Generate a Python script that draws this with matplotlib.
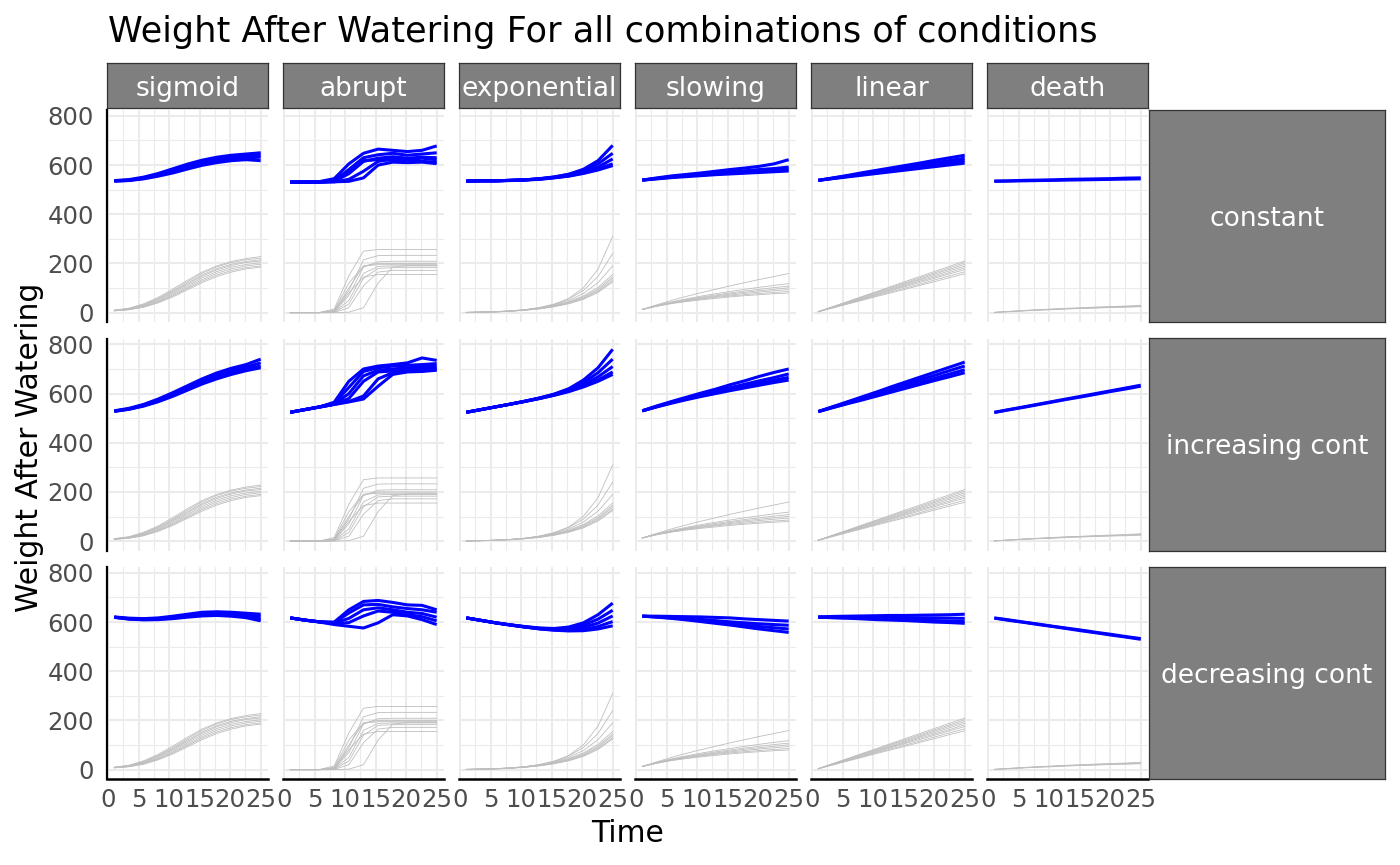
import matplotlib
matplotlib.use("Agg")
import matplotlib.pyplot as plt

# ---------------- data ----------------
days = [1, 3.4, 5.8, 8.2, 10.6, 13, 15.4, 17.8, 20.2, 22.6, 25]
growth_types = ["sigmoid", "abrupt", "exponential", "slowing", "linear", "death"]
conditions = ["constant", "increasing cont", "decreasing cont"]
y_ticks = [0, 200, 400, 600, 800]
x_ticks = [0, 5, 10, 15, 20, 25]

# grey: plant growth curves (same in every condition)
grey_sigmoid = [
    [10, 18, 36, 62, 96, 132, 165, 190, 208, 220, 228],
    [10, 17, 33, 58, 90, 126, 160, 186, 204, 215, 222],
    [9, 16, 31, 55, 86, 120, 153, 179, 197, 208, 215],
    [9, 15, 29, 52, 82, 115, 148, 174, 192, 204, 210],
    [8, 14, 27, 48, 77, 109, 141, 167, 185, 196, 203],
    [8, 13, 25, 45, 72, 103, 134, 160, 178, 190, 197],
    [8, 12, 23, 42, 68, 98, 128, 153, 171, 183, 190],
    [7, 12, 22, 40, 64, 93, 122, 147, 165, 178, 185],
]
grey_abrupt = [
    [0, 0, 1, 15, 150, 250, 257, 257, 257, 257, 257],
    [0, 0, 0, 6, 90, 215, 232, 233, 233, 233, 233],
    [0, 0, 0, 4, 70, 185, 207, 209, 209, 209, 209],
    [0, 0, 0, 10, 120, 190, 195, 195, 195, 195, 195],
    [0, 0, 0, 3, 50, 160, 188, 190, 190, 190, 190],
    [0, 0, 0, 2, 35, 140, 180, 183, 183, 183, 183],
    [0, 0, 0, 1, 20, 110, 165, 172, 172, 172, 172],
    [0, 0, 0, 5, 80, 145, 155, 155, 155, 155, 155],
    [0, 0, 0, 0, 2, 20, 120, 185, 192, 192, 192],
    [0, 0, 0, 8, 100, 190, 200, 200, 200, 200, 200],
]
grey_exponential = [
    [1, 2, 3, 6, 11, 19, 33, 58, 101, 177, 310],
    [1, 2, 4, 7, 12, 21, 35, 56, 90, 147, 240],
    [1, 2, 4, 7, 12, 20, 32, 50, 78, 122, 190],
    [1, 2, 4, 7, 12, 19, 30, 45, 68, 103, 155],
    [1, 2, 4, 7, 11, 18, 28, 42, 64, 96, 145],
    [1, 2, 4, 6, 10, 17, 26, 40, 60, 91, 138],
    [1, 2, 3, 6, 10, 16, 25, 38, 57, 86, 130],
    [1, 2, 3, 6, 10, 15, 24, 36, 54, 82, 125],
]
grey_slowing = [
    [13, 32, 50, 66, 81, 95, 109, 122, 135, 147, 159],
    [13, 30, 44, 56, 67, 77, 86, 95, 103, 111, 118],
    [13, 29, 42, 53, 63, 72, 80, 88, 95, 102, 108],
    [13, 28, 40, 51, 60, 68, 76, 83, 89, 95, 101],
    [13, 27, 39, 49, 57, 65, 72, 78, 84, 89, 94],
    [13, 27, 38, 47, 55, 62, 68, 73, 78, 82, 86],
    [13, 26, 37, 45, 52, 58, 64, 69, 73, 77, 80],
]
grey_linear = [
    [4, 25, 45, 66, 86, 107, 128, 148, 169, 189, 210],
    [4, 24, 44, 64, 84, 104, 123, 143, 163, 183, 203],
    [4, 23, 42, 62, 81, 100, 119, 138, 158, 177, 196],
    [4, 22, 41, 59, 78, 96, 115, 134, 152, 171, 189],
    [4, 22, 40, 57, 75, 93, 111, 129, 146, 164, 182],
    [4, 21, 38, 55, 72, 90, 107, 124, 141, 158, 175],
    [4, 20, 36, 53, 69, 85, 101, 117, 134, 150, 166],
    [4, 19, 35, 50, 66, 81, 96, 112, 127, 143, 158],
]
grey_death = [
    [1, 5, 9, 12, 15, 18, 20, 23, 25, 27, 30],
    [1, 5, 8, 11, 14, 17, 19, 21, 23, 25, 28],
    [1, 4, 8, 11, 13, 16, 18, 20, 22, 24, 26],
    [1, 4, 7, 10, 12, 15, 17, 19, 21, 22, 24],
]

# blue: weight after watering, condition "constant"
blue_constant_sigmoid = [
    [537, 541, 551, 566, 585, 604, 620, 632, 640, 645, 650],
    [536, 539, 548, 561, 578, 596, 612, 624, 632, 637, 640],
    [535, 538, 546, 558, 573, 590, 606, 617, 625, 630, 632],
    [535, 537, 544, 555, 568, 584, 599, 610, 618, 622, 618],
]
blue_constant_abrupt = [
    [531, 531, 533, 545, 605, 648, 665, 660, 655, 660, 678],
    [531, 531, 531, 537, 582, 630, 642, 648, 640, 645, 650],
    [531, 531, 531, 534, 565, 615, 628, 634, 628, 632, 630],
    [531, 531, 531, 535, 575, 618, 622, 620, 622, 615, 612],
    [531, 531, 531, 532, 542, 575, 615, 625, 622, 628, 622],
    [531, 531, 531, 532, 534, 548, 600, 612, 610, 612, 606],
]
blue_constant_exponential = [
    [535, 536, 536, 538, 540, 544, 551, 563, 583, 618, 680],
    [535, 536, 536, 538, 540, 545, 552, 562, 578, 605, 648],
    [535, 536, 536, 538, 540, 544, 550, 558, 572, 592, 625],
    [535, 536, 536, 538, 540, 543, 549, 556, 568, 585, 605],
    [535, 536, 536, 537, 539, 542, 548, 555, 566, 580, 598],
]
blue_constant_slowing = [
    [539, 548, 556, 562, 568, 575, 582, 588, 595, 605, 622],
    [539, 546, 553, 558, 563, 568, 573, 577, 582, 586, 592],
    [539, 545, 551, 556, 560, 564, 568, 571, 575, 579, 583],
    [539, 544, 549, 553, 557, 561, 564, 567, 570, 573, 576],
]
blue_constant_linear = [
    [538, 548, 558, 569, 579, 589, 599, 609, 620, 630, 640],
    [538, 547, 556, 565, 574, 583, 592, 601, 610, 619, 628],
    [538, 546, 554, 562, 570, 578, 586, 594, 602, 610, 618],
    [538, 545, 552, 559, 566, 573, 580, 587, 594, 601, 608],
]
blue_constant_death = [
    [535, 536, 538, 539, 540, 542, 543, 544, 545, 547, 548],
    [534, 535, 536, 537, 538, 539, 540, 541, 542, 543, 544],
]

# condition "increasing cont"
blue_increasing_sigmoid = [
    [530, 540, 556, 578, 604, 632, 660, 684, 703, 718, 740],
    [529, 538, 553, 574, 598, 625, 652, 675, 694, 708, 725],
    [528, 537, 551, 570, 593, 619, 645, 667, 686, 700, 712],
    [528, 536, 549, 567, 589, 614, 639, 660, 678, 693, 705],
]
blue_increasing_abrupt = [
    [524, 535, 546, 565, 650, 700, 712, 718, 725, 745, 735],
    [524, 535, 546, 560, 625, 690, 705, 712, 715, 718, 722],
    [524, 535, 546, 558, 600, 672, 695, 700, 705, 708, 712],
    [524, 535, 546, 557, 580, 650, 688, 692, 698, 700, 705],
    [524, 535, 545, 556, 568, 590, 660, 685, 690, 692, 698],
    [524, 535, 545, 556, 566, 578, 630, 678, 688, 690, 695],
]
blue_increasing_exponential = [
    [524, 535, 546, 557, 569, 582, 598, 620, 655, 705, 780],
    [524, 535, 546, 557, 569, 582, 597, 616, 645, 685, 740],
    [524, 535, 546, 557, 569, 581, 595, 612, 636, 668, 710],
    [524, 535, 546, 557, 568, 580, 594, 610, 630, 655, 688],
    [524, 535, 546, 557, 568, 580, 593, 608, 627, 650, 678],
]
blue_increasing_slowing = [
    [530, 550, 568, 585, 602, 618, 636, 652, 670, 686, 700],
    [530, 548, 565, 581, 596, 610, 624, 638, 652, 665, 680],
    [530, 547, 563, 578, 592, 605, 618, 630, 642, 654, 666],
    [530, 546, 561, 575, 588, 600, 612, 623, 634, 645, 655],
]
blue_increasing_linear = [
    [527, 547, 567, 587, 607, 628, 648, 668, 688, 708, 728],
    [527, 546, 564, 583, 601, 620, 638, 657, 675, 694, 712],
    [527, 544, 561, 578, 595, 612, 629, 646, 663, 680, 697],
    [527, 543, 559, 574, 590, 606, 622, 638, 654, 669, 685],
]
blue_increasing_death = [
    [524, 535, 546, 557, 568, 579, 590, 601, 612, 623, 634],
    [523, 534, 544, 555, 566, 577, 587, 598, 609, 619, 630],
]

# condition "decreasing cont"
blue_decreasing_sigmoid = [
    [621, 616, 614, 617, 624, 632, 640, 642, 640, 636, 632],
    [620, 614, 612, 614, 620, 628, 635, 637, 635, 630, 622],
    [620, 613, 611, 612, 617, 624, 630, 632, 630, 624, 612],
    [619, 612, 609, 610, 614, 620, 625, 627, 624, 618, 605],
]
blue_decreasing_abrupt = [
    [617, 608, 601, 600, 650, 684, 688, 680, 670, 668, 650],
    [617, 608, 601, 598, 637, 670, 672, 662, 655, 650, 640],
    [617, 608, 601, 596, 615, 650, 658, 650, 640, 635, 620],
    [617, 608, 601, 594, 598, 625, 645, 640, 630, 622, 605],
    [617, 608, 600, 590, 583, 576, 597, 630, 625, 610, 590],
]
blue_decreasing_exponential = [
    [617, 607, 597, 589, 582, 576, 574, 580, 597, 630, 677],
    [617, 607, 597, 589, 581, 575, 572, 575, 588, 612, 648],
    [617, 607, 597, 588, 580, 574, 570, 571, 579, 596, 625],
    [617, 607, 597, 588, 580, 573, 568, 567, 570, 582, 602],
    [617, 607, 597, 588, 580, 572, 567, 564, 565, 572, 585],
]
blue_decreasing_slowing = [
    [624, 624, 623, 622, 621, 619, 617, 613, 610, 607, 604],
    [624, 622, 619, 615, 611, 606, 601, 597, 593, 590, 587],
    [624, 621, 617, 612, 606, 600, 594, 588, 582, 577, 572],
    [624, 620, 615, 609, 602, 595, 588, 580, 572, 565, 558],
]
blue_decreasing_linear = [
    [621, 623, 624, 625, 626, 627, 627, 628, 629, 630, 632],
    [620, 620, 620, 619, 619, 618, 618, 617, 617, 616, 615],
    [620, 618, 617, 615, 614, 612, 610, 608, 606, 604, 602],
    [620, 618, 616, 613, 610, 608, 606, 603, 600, 598, 595],
]
blue_decreasing_death = [
    [617, 609, 600, 592, 583, 575, 567, 558, 550, 541, 533],
    [616, 607, 599, 590, 582, 573, 564, 556, 547, 539, 530],
]

grey_by_type = {
    "sigmoid": grey_sigmoid, "abrupt": grey_abrupt, "exponential": grey_exponential,
    "slowing": grey_slowing, "linear": grey_linear, "death": grey_death,
}
blue_by_cell = {
    ("constant", "sigmoid"): blue_constant_sigmoid,
    ("constant", "abrupt"): blue_constant_abrupt,
    ("constant", "exponential"): blue_constant_exponential,
    ("constant", "slowing"): blue_constant_slowing,
    ("constant", "linear"): blue_constant_linear,
    ("constant", "death"): blue_constant_death,
    ("increasing cont", "sigmoid"): blue_increasing_sigmoid,
    ("increasing cont", "abrupt"): blue_increasing_abrupt,
    ("increasing cont", "exponential"): blue_increasing_exponential,
    ("increasing cont", "slowing"): blue_increasing_slowing,
    ("increasing cont", "linear"): blue_increasing_linear,
    ("increasing cont", "death"): blue_increasing_death,
    ("decreasing cont", "sigmoid"): blue_decreasing_sigmoid,
    ("decreasing cont", "abrupt"): blue_decreasing_abrupt,
    ("decreasing cont", "exponential"): blue_decreasing_exponential,
    ("decreasing cont", "slowing"): blue_decreasing_slowing,
    ("decreasing cont", "linear"): blue_decreasing_linear,
    ("decreasing cont", "death"): blue_decreasing_death,
}

# ---------------- layout ----------------
W, H = 1400, 865
fig = plt.figure(figsize=(W / 100, H / 100), dpi=100)
plt.rcParams["font.family"] = ["DejaVu Sans"]


def rect(x0, top, w, h):
    return [x0 / W, 1 - (top + h) / H, w / W, h / H]


PANEL_L, PANEL_W, COL_STEP = 107, 161, 176
PANEL_T, PANEL_H, ROW_STEP = 110, 212, 228.5
GRID = "#EBEBEB"
STRIP_FC, STRIP_EC = "#7F7F7F", "#333333"
TICK_C = "#4D4D4D"
TICK_FS = 17.6


def strip(x0, top, w, h, label):
    sa = fig.add_axes(rect(x0, top, w, h))
    sa.set_facecolor(STRIP_FC)
    sa.set_xticks([])
    sa.set_yticks([])
    for s in sa.spines.values():
        s.set_color(STRIP_EC)
        s.set_linewidth(0.9)
    sa.text(0.5, 0.5, label, transform=sa.transAxes, ha="center",
            va="center_baseline", color="white", fontsize=19)


for r, cond in enumerate(conditions):
    for c, gt in enumerate(growth_types):
        left = PANEL_L + c * COL_STEP
        top = PANEL_T + r * ROW_STEP
        ax = fig.add_axes(rect(left, top, PANEL_W, PANEL_H))
        ax.set_xlim(-0.2, 26.2)
        ax.set_ylim(-38, 824)
        ax.set_xticks(x_ticks)
        ax.set_xticks([2.5, 7.5, 12.5, 17.5, 22.5], minor=True)
        ax.set_yticks(y_ticks)
        ax.set_yticks([100, 300, 500, 700], minor=True)
        ax.grid(which="major", color=GRID, linewidth=1.5)
        ax.grid(which="minor", color=GRID, linewidth=0.8)
        ax.set_axisbelow(True)
        ax.tick_params(which="both", length=0)
        ax.tick_params(axis="x", pad=6.5, labelsize=TICK_FS, labelcolor=TICK_C)
        ax.tick_params(axis="y", pad=9.5, labelsize=TICK_FS, labelcolor=TICK_C)
        for s in ax.spines.values():
            s.set_visible(False)
        if c == 0:
            ax.spines["left"].set_visible(True)
            ax.spines["left"].set_color("black")
            ax.spines["left"].set_linewidth(1.6)
        else:
            ax.set_yticklabels([])
        if r == len(conditions) - 1:
            ax.spines["bottom"].set_visible(True)
            ax.spines["bottom"].set_color("black")
            ax.spines["bottom"].set_linewidth(1.8)
        else:
            ax.set_xticklabels([])

        for g in grey_by_type[gt]:
            ax.plot(days, g, color="#BEBEBE", linewidth=0.6, solid_joinstyle="round")
        for b in blue_by_cell[(cond, gt)]:
            ax.plot(days, b, color="#0000FF", linewidth=2.2, solid_joinstyle="round",
                    solid_capstyle="butt")

        if r == 0:
            strip(left, 63, PANEL_W, 45, gt)
    strip(1149, PANEL_T + r * ROW_STEP, 236, PANEL_H, cond)

fig.text(108 / W, 1 - 42 / H, "Weight After Watering For all combinations of conditions",
         ha="left", va="baseline", fontsize=25.3, color="black")
fig.text((PANEL_L + (PANEL_L + 5 * COL_STEP + PANEL_W)) / 2 / W, 1 - 833 / H, "Time",
         ha="center", va="center", fontsize=21.5, color="black")
fig.text(30 / W, 1 - 447 / H, "Weight After Watering", rotation=90,
         ha="center", va="center", fontsize=21.5, color="black")

fig.savefig("out.png", dpi=100, facecolor="white")
